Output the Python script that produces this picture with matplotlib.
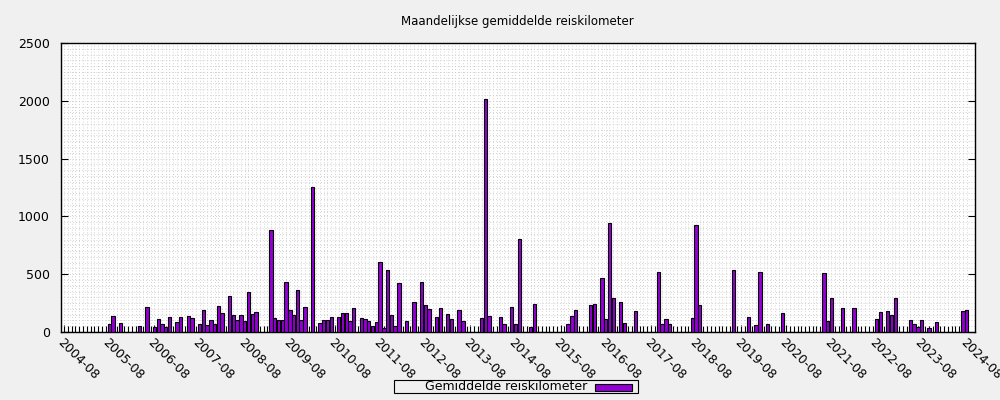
"""
Maandelijkse gemiddelde reiskilometer, 2004-08 t/m 2024-08.
Saves: out.png
"""

import matplotlib
matplotlib.use("Agg")
import matplotlib.pyplot as plt
from matplotlib.patches import Rectangle
from matplotlib.ticker import FixedLocator, MultipleLocator
import numpy as np
import pandas as pd

# -----------------------------------------------------------------------
# Data: one row per year, months aug .. jul
# -----------------------------------------------------------------------
months = pd.period_range("2004-08", "2024-08", freq="M")

km_2004 = [0, 0, 0, 0, 0, 0, 0, 0, 0, 0, 0, 0]
km_2005 = [69, 138, 0, 78, 0, 0, 0, 0, 52, 0, 216, 0]
km_2006 = [43, 112, 69, 43, 130, 0, 87, 130, 0, 138, 121, 0]
km_2007 = [69, 188, 61, 101, 69, 225, 164, 0, 311, 147, 104, 147]
km_2008 = [95, 346, 156, 173, 0, 0, 0, 882, 121, 104, 104, 433]
km_2009 = [190, 147, 363, 104, 216, 0, 1257, 0, 75, 104, 104, 133]
km_2010 = [0, 133, 164, 164, 95, 210, 0, 124, 115, 95, 52, 87]
km_2011 = [608, 37, 536, 147, 52, 421, 0, 95, 0, 260, 0, 430]
km_2012 = [234, 199, 0, 133, 210, 0, 156, 115, 0, 190, 95, 0]
km_2013 = [0, 0, 0, 124, 2015, 141, 0, 0, 133, 69, 0, 219]
km_2014 = [69, 805, 0, 0, 46, 242, 0, 0, 0, 0, 0, 0]
km_2015 = [0, 0, 69, 138, 190, 0, 0, 0, 234, 242, 0, 467]
km_2016 = [112, 943, 294, 0, 260, 78, 0, 0, 182, 0, 0, 0]
km_2017 = [0, 0, 519, 69, 112, 69, 0, 0, 0, 0, 0, 121]
km_2018 = [926, 234, 0, 0, 0, 0, 0, 0, 0, 0, 536, 0]
km_2019 = [0, 0, 130, 0, 61, 519, 0, 69, 0, 0, 0, 164]
km_2020 = [0, 0, 0, 0, 0, 0, 0, 0, 0, 0, 510, 95]
km_2021 = [294, 0, 0, 208, 0, 0, 208, 0, 0, 0, 0, 0]
km_2022 = [112, 173, 0, 182, 147, 294, 0, 0, 0, 104, 69, 43]
km_2023 = [104, 0, 35, 0, 87, 0, 0, 0, 0, 0, 0, 182]
km_2024 = [190]

km = np.array(
    km_2004 + km_2005 + km_2006 + km_2007 + km_2008 + km_2009 + km_2010
    + km_2011 + km_2012 + km_2013 + km_2014 + km_2015 + km_2016 + km_2017
    + km_2018 + km_2019 + km_2020 + km_2021 + km_2022 + km_2023 + km_2024
)

x = np.arange(len(months))
year_pos = [i for i, p in enumerate(months) if p.month == 8]
year_lbl = [str(months[i]) for i in year_pos]

# -----------------------------------------------------------------------
# Figure
# -----------------------------------------------------------------------
BG = "#f0f0f0"
PURPLE = "#9400d3"
GRID = "#c4c4c4"

fig = plt.figure(figsize=(10, 4), dpi=100, facecolor=BG)
ax = fig.add_axes([0.061, 0.17, 0.914, 0.7225])
ax.set_facecolor("white")

ax.bar(x, km, width=0.9, color=PURPLE, edgecolor="black",
       linewidth=0.8, zorder=3)

ax.set_xlim(-0.85, 242.2)
ax.set_ylim(0, 2500)

ax.xaxis.set_major_locator(FixedLocator(year_pos))
ax.xaxis.set_minor_locator(FixedLocator(x))
ax.set_xticklabels(year_lbl, rotation=-45, ha="left", va="top",
                   rotation_mode="anchor", fontsize=9)
ax.yaxis.set_major_locator(MultipleLocator(500))
ax.yaxis.set_minor_locator(MultipleLocator(50))
ax.tick_params(axis="y", labelsize=9)

ax.tick_params(axis="x", which="major", direction="in", length=5,
               width=0.8, pad=3, bottom=True, top=False)
ax.tick_params(axis="x", which="minor", direction="in", length=4,
               width=0.8, bottom=True, top=False)
ax.tick_params(axis="y", which="major", direction="in", length=5,
               width=0.8, left=True, right=True, pad=8)
ax.tick_params(axis="y", which="minor", left=False, right=False)

ax.grid(True, which="both", color=GRID, linestyle=(0, (1, 2.5)),
        linewidth=0.6, zorder=0)
for s in ax.spines.values():
    s.set_linewidth(1.0)

fig.text(0.5175, 0.945, "Maandelijkse gemiddelde reiskilometer",
         ha="center", va="center", fontsize=8.5)

# ---- key box at the bottom (text right-aligned, sample to the right) ----
fig.patches.append(Rectangle((0.394, 1 - 393 / 400), 0.244, 13 / 400,
                             transform=fig.transFigure, facecolor=BG,
                             edgecolor="black", linewidth=0.8))
fig.text(0.587, 1 - 387 / 400, "Gemiddelde reiskilometer",
         ha="right", va="center", fontsize=9)
fig.patches.append(Rectangle((0.595, 1 - 390.5 / 400), 0.037, 6.5 / 400,
                             transform=fig.transFigure, facecolor=PURPLE,
                             edgecolor="black", linewidth=0.8))

plt.savefig("out.png", dpi=100, facecolor=BG)
plt.close()
